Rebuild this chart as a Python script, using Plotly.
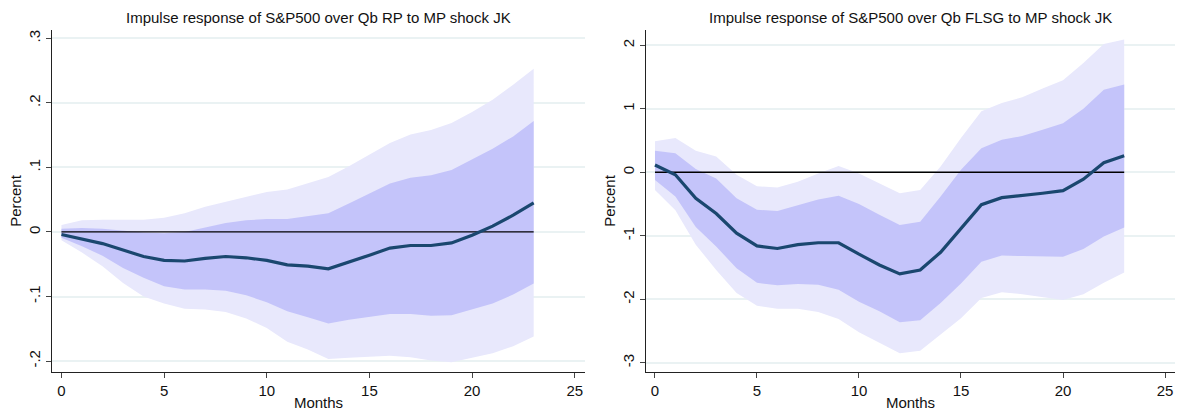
import plotly.graph_objects as go

months = list(range(24))

# Left panel: S&P500 over Qb RP
rp_median = [-0.004, -0.011, -0.018, -0.028, -0.038, -0.044, -0.045, -0.041, -0.038, -0.040,
             -0.044, -0.051, -0.053, -0.057, -0.047, -0.036, -0.025, -0.021, -0.021, -0.017,
             -0.005, 0.009, 0.026, 0.045]
rp_in_hi = [0.005, 0.006, 0.005, 0.002, -0.001, -0.002, 0.000, 0.007, 0.014, 0.018,
            0.020, 0.020, 0.024, 0.029, 0.044, 0.059, 0.075, 0.084, 0.088, 0.096,
            0.112, 0.129, 0.148, 0.172]
rp_in_lo = [-0.009, -0.022, -0.037, -0.056, -0.071, -0.084, -0.089, -0.089, -0.091, -0.098,
            -0.109, -0.123, -0.132, -0.142, -0.136, -0.132, -0.127, -0.127, -0.130, -0.129,
            -0.120, -0.111, -0.097, -0.080]
rp_out_hi = [0.011, 0.018, 0.019, 0.019, 0.019, 0.022, 0.029, 0.039, 0.047, 0.055,
             0.062, 0.066, 0.075, 0.085, 0.102, 0.120, 0.138, 0.151, 0.158, 0.169,
             0.186, 0.205, 0.228, 0.253]
rp_out_lo = [-0.013, -0.032, -0.053, -0.079, -0.100, -0.111, -0.119, -0.120, -0.124, -0.134,
             -0.149, -0.170, -0.182, -0.197, -0.195, -0.194, -0.192, -0.194, -0.199, -0.202,
             -0.195, -0.188, -0.177, -0.162]

# Right panel: S&P500 over Qb FLSG
fl_median = [0.115, -0.04, -0.41, -0.65, -0.96, -1.16, -1.20, -1.14, -1.11, -1.11,
             -1.29, -1.46, -1.60, -1.54, -1.26, -0.88, -0.51, -0.40, -0.37, -0.33,
             -0.29, -0.11, 0.15, 0.26]
fl_in_hi = [0.34, 0.30, 0.05, -0.10, -0.41, -0.59, -0.61, -0.52, -0.43, -0.37,
            -0.50, -0.67, -0.83, -0.78, -0.38, 0.04, 0.38, 0.51, 0.57, 0.67,
            0.77, 1.00, 1.30, 1.38]
fl_in_lo = [-0.12, -0.38, -0.86, -1.17, -1.51, -1.74, -1.78, -1.76, -1.77, -1.85,
            -2.04, -2.19, -2.36, -2.33, -2.06, -1.75, -1.41, -1.31, -1.32, -1.33,
            -1.33, -1.21, -1.01, -0.87]
fl_out_hi = [0.49, 0.54, 0.34, 0.25, -0.04, -0.22, -0.24, -0.15, -0.02, 0.10,
             -0.02, -0.18, -0.33, -0.28, 0.09, 0.54, 0.96, 1.09, 1.18, 1.32,
             1.45, 1.72, 2.02, 2.09]
fl_out_lo = [-0.28, -0.60, -1.14, -1.54, -1.90, -2.10, -2.15, -2.15, -2.20, -2.31,
             -2.52, -2.69, -2.85, -2.81, -2.56, -2.30, -1.98, -1.89, -1.92, -1.97,
             -2.01, -1.92, -1.74, -1.58]

titles = ["Impulse response of S&P500 over Qb RP to MP shock JK",
          "Impulse response of S&P500 over Qb FLSG to MP shock JK"]
x_ticks = [0, 5, 10, 15, 20, 25]
left_yticks = [-0.2, -0.1, 0, 0.1, 0.2, 0.3]
left_yticklabels = ["-.2", "-.1", "0", ".1", ".2", ".3"]
right_yticks = [-3, -2, -1, 0, 1, 2]
right_yticklabels = ["-3", "-2", "-1", "0", "1", "2"]

OUTER = "#E8E8FC"
INNER = "#C4C4FA"
NAVY = "#1A476F"
GRID = "#EAF2F3"
FONT = "Liberation Sans, Arial, Helvetica, sans-serif"
FS = 15

W, H = 1177, 411
fig = go.Figure()

panels = [
    dict(xa="x", ya="y", med=rp_median, ih=rp_in_hi, il=rp_in_lo, oh=rp_out_hi, ol=rp_out_lo),
    dict(xa="x2", ya="y2", med=fl_median, ih=fl_in_hi, il=fl_in_lo, oh=fl_out_hi, ol=fl_out_lo),
]
for p in panels:
    common = dict(xaxis=p["xa"], yaxis=p["ya"], showlegend=False, hoverinfo="skip")
    fig.add_trace(go.Scatter(x=months, y=p["oh"], mode="lines", line=dict(width=0, color=OUTER), **common))
    fig.add_trace(go.Scatter(x=months, y=p["ol"], mode="lines", line=dict(width=0, color=OUTER),
                             fill="tonexty", fillcolor=OUTER, **common))
    fig.add_trace(go.Scatter(x=months, y=p["ih"], mode="lines", line=dict(width=0, color=INNER), **common))
    fig.add_trace(go.Scatter(x=months, y=p["il"], mode="lines", line=dict(width=0, color=INNER),
                             fill="tonexty", fillcolor=INNER, **common))
    fig.add_trace(go.Scatter(x=[months[0], months[-1]], y=[0, 0], mode="lines",
                             line=dict(width=1.3, color="black"), **common))
    fig.add_trace(go.Scatter(x=months, y=p["med"], mode="lines",
                             line=dict(width=3.2, color=NAVY), **common))

ydom = [(411 - 372) / H, (411 - 30) / H]
xdom1 = [52 / W, 585 / W]
xdom2 = [646 / W, 1175 / W]

axis_common = dict(showline=True, linecolor="#222", linewidth=1.3, ticks="outside", ticklen=5,
                   tickcolor="#444", tickwidth=1.2, tickfont=dict(family=FONT, size=FS, color="#111"),
                   zeroline=False)
xcommon = dict(axis_common, showgrid=False, tickvals=x_ticks,
               title=dict(text="Months", font=dict(family=FONT, size=FS, color="#111"), standoff=0))
ycommon = dict(axis_common, showgrid=True, gridcolor=GRID, gridwidth=1.5, tickangle=-90,
               title=dict(text="Percent", font=dict(family=FONT, size=FS, color="#111"), standoff=0))

fig.update_layout(
    width=W, height=H,
    margin=dict(l=0, r=0, t=0, b=0),
    paper_bgcolor="white", plot_bgcolor="white",
    font=dict(family=FONT, size=FS, color="#111"),
    xaxis=dict(xcommon, domain=xdom1, range=[-0.46, 25.5], anchor="y"),
    yaxis=dict(ycommon, domain=ydom, range=[-0.217, 0.313], tickvals=left_yticks,
               ticktext=left_yticklabels, anchor="x"),
    xaxis2=dict(xcommon, domain=xdom2, range=[-0.44, 25.49], anchor="y2"),
    yaxis2=dict(ycommon, domain=ydom, range=[-3.145, 2.24], tickvals=right_yticks,
                ticktext=right_yticklabels, anchor="x2"),
    annotations=[
        dict(text=titles[0], x=(xdom1[0] + xdom1[1]) / 2, y=1 - 18 / H, xref="paper", yref="paper",
             showarrow=False, font=dict(family=FONT, size=FS, color="#111"), xanchor="center", yanchor="middle"),
        dict(text=titles[1], x=(xdom2[0] + xdom2[1]) / 2, y=1 - 18 / H, xref="paper", yref="paper",
             showarrow=False, font=dict(family=FONT, size=FS, color="#111"), xanchor="center", yanchor="middle"),
    ],
)

fig.write_html("out.html")
